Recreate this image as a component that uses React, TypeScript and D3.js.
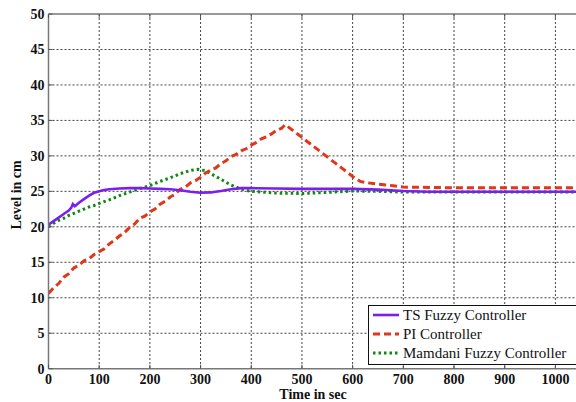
import React from "react";
import * as d3 from "d3";

const xTicks = [0, 100, 200, 300, 400, 500, 600, 700, 800, 900, 1000];
const yTicks = [0, 5, 10, 15, 20, 25, 30, 35, 40, 45, 50];

const tsTime = [0, 10, 20, 30, 40, 45, 48, 52, 60, 70, 80, 90, 100, 110, 120, 140, 160, 180, 200, 220, 240, 260, 280, 300, 320, 340, 360, 380, 400, 450, 500, 550, 600, 650, 700, 750, 800, 900, 1045];
const tsLevel = [20.3, 20.8, 21.3, 21.8, 22.3, 22.7, 23.2, 22.9, 23.4, 23.9, 24.4, 24.8, 25.0, 25.2, 25.3, 25.4, 25.45, 25.45, 25.4, 25.35, 25.3, 25.15, 24.95, 24.8, 24.85, 25.05, 25.3, 25.45, 25.45, 25.4, 25.35, 25.35, 25.35, 25.25, 25.05, 24.95, 24.95, 24.95, 24.95];

const piTime = [0, 10, 20, 30, 40, 50, 60, 70, 80, 90, 100, 110, 120, 130, 140, 150, 160, 170, 180, 190, 200, 210, 220, 230, 240, 250, 260, 270, 280, 290, 300, 310, 320, 330, 340, 350, 360, 370, 380, 390, 400, 410, 420, 430, 440, 450, 460, 467, 480, 500, 520, 540, 560, 580, 600, 615, 630, 650, 680, 700, 750, 800, 900, 1045];
const piLevel = [10.6, 11.4, 12.0, 12.9, 13.4, 14.2, 14.6, 15.2, 15.5, 16.1, 16.5, 16.9, 17.6, 18.1, 18.7, 19.2, 19.9, 20.4, 21.2, 21.5, 22.1, 22.5, 23.2, 23.6, 24.2, 24.6, 25.3, 25.6, 26.2, 26.5, 27.0, 27.6, 28.0, 28.3, 28.9, 29.3, 29.9, 30.2, 30.7, 31.0, 31.5, 31.9, 32.4, 32.7, 33.1, 33.6, 33.9, 34.4, 33.7, 32.6, 31.5, 30.4, 29.3, 28.2, 27.1, 26.4, 26.2, 26.0, 25.8, 25.6, 25.55, 25.5, 25.5, 25.5];

const mdTime = [0, 10, 20, 30, 40, 50, 60, 70, 80, 90, 100, 120, 140, 160, 180, 200, 220, 240, 260, 280, 295, 310, 320, 340, 360, 380, 400, 450, 500, 550, 600, 650, 700, 800, 900, 1045];
const mdLevel = [20.0, 20.5, 20.9, 21.2, 21.6, 21.9, 22.2, 22.5, 22.8, 23.0, 23.3, 23.8, 24.4, 24.9, 25.4, 25.8, 26.4, 26.9, 27.5, 27.95, 28.1, 27.9, 27.5, 26.7, 25.9, 25.3, 25.0, 24.75, 24.7, 24.85, 25.05, 25.0, 24.9, 24.9, 24.9, 24.9];

const seriesNames = ["TS Fuzzy Controller", "PI Controller", "Mamdani Fuzzy Controller"];
const colors = ["#7b1fef", "#e0361a", "#0b8a12"];

export default function App() {
  const W = 576, H = 402;
  const x = d3.scaleLinear().domain([0, 1045]).range([48.5, 48.5 + 1045 * 0.5069]);
  const y = d3.scaleLinear().domain([0, 50]).range([368.7, 14]);
  const left = x(0), right = x(1045), top = y(50), bottom = y(0);

  const mk = (ts: number[], vs: number[]) =>
    d3.line<number>().x((_, i) => x(ts[i])).y((v) => y(v))(vs) || "";

  const tsPath = mk(tsTime, tsLevel);
  const piPath = mk(piTime, piLevel);
  const mdPath = mk(mdTime, mdLevel);

  const font = "'Liberation Serif', 'Times New Roman', serif";
  const dashes = ["", "7,4", "2.5,3"];
  const widths = [2.6, 3, 3];

  return (
    <div style={{ position: "absolute", left: 0, top: 0 }}>
      <svg width={W} height={H} style={{ display: "block", background: "#fff" }}>
        <defs>
          <clipPath id="plotClip">
            <rect x={left} y={top} width={right - left} height={bottom - top} />
          </clipPath>
        </defs>
        {/* grid */}
        {xTicks.slice(1).map((t) => (
          <line key={"gx" + t} x1={x(t)} x2={x(t)} y1={top} y2={bottom} stroke="#444" strokeWidth={1} strokeDasharray="2,2" />
        ))}
        {yTicks.slice(1, -1).map((t) => (
          <line key={"gy" + t} x1={left} x2={right} y1={y(t)} y2={y(t)} stroke="#444" strokeWidth={1} strokeDasharray="2,2" />
        ))}
        {/* data */}
        <g clipPath="url(#plotClip)">
          <path d={mdPath} fill="none" stroke={colors[2]} strokeWidth={widths[2]} strokeDasharray={dashes[2]} />
          <path d={piPath} fill="none" stroke={colors[1]} strokeWidth={widths[1]} strokeDasharray={dashes[1]} />
          <path d={tsPath} fill="none" stroke={colors[0]} strokeWidth={widths[0]} />
        </g>
        {/* frame */}
        <line x1={left} x2={right} y1={top} y2={top} stroke="#777" strokeWidth={1.5} />
        <line x1={left} x2={right} y1={bottom} y2={bottom} stroke="#777" strokeWidth={1.5} />
        <line x1={left} x2={left} y1={top} y2={bottom} stroke="#777" strokeWidth={1.5} />
        {/* ticks */}
        {xTicks.map((t) => (
          <g key={"tx" + t}>
            <line x1={x(t)} x2={x(t)} y1={bottom} y2={bottom - 4} stroke="#555" strokeWidth={1} />
            <line x1={x(t)} x2={x(t)} y1={top} y2={top + 4} stroke="#555" strokeWidth={1} />
            <text x={x(t)} y={bottom + 15} textAnchor="middle" fontFamily={font} fontWeight="bold" fontSize={14} fill="#111">{t}</text>
          </g>
        ))}
        {yTicks.map((t) => (
          <g key={"ty" + t}>
            <line x1={left} x2={left + 4} y1={y(t)} y2={y(t)} stroke="#555" strokeWidth={1} />
            <text x={left - 4} y={y(t) + 5} textAnchor="end" fontFamily={font} fontWeight="bold" fontSize={14} fill="#111">{t}</text>
          </g>
        ))}
        {/* axis labels */}
        <text x={313} y={399} textAnchor="middle" fontFamily={font} fontWeight="bold" fontSize={14} fill="#111">Time in sec</text>
        <text transform={`translate(21,${y(24.5)}) rotate(-90)`} textAnchor="middle" fontFamily={font} fontWeight="bold" fontSize={14} fill="#111">Level in cm</text>
        {/* legend */}
        <rect x={368.5} y={305.5} width={215} height={59} fill="#fff" stroke="#111" strokeWidth={1} />
        {seriesNames.map((n, i) => {
          const ly = 315 + i * 19;
          return (
            <g key={n}>
              <line x1={373} x2={399} y1={ly} y2={ly} stroke={colors[i]} strokeWidth={widths[i]} strokeDasharray={dashes[i]} />
              <text x={403} y={ly + 5} fontFamily={font} fontSize={15} fill="#111">{n}</text>
            </g>
          );
        })}
      </svg>
    </div>
  );
}
